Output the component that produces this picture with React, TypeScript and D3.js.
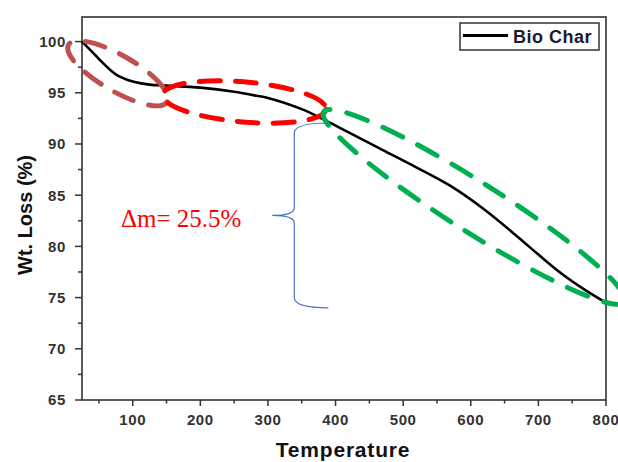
import React from "react";
import * as d3 from "d3";

const temps = [25, 40, 50, 75, 100, 125, 150, 200, 250, 275, 300, 350, 385, 420, 470, 520, 570, 620, 670, 700, 735, 770, 800];
const wtLoss = [100, 99.0, 98.3, 96.8, 96.1, 95.8, 95.7, 95.5, 95.1, 94.8, 94.5, 93.4, 92.3, 91.1, 89.4, 87.7, 85.9, 83.6, 80.9, 79.2, 77.3, 75.7, 74.5];
const xTicks = [100, 200, 300, 400, 500, 600, 700, 800];
const xMinor = [50, 150, 250, 350, 450, 550, 650, 750];
const yTicks = [65, 70, 75, 80, 85, 90, 95, 100];
const yMinor = [67.5, 72.5, 77.5, 82.5, 87.5, 92.5, 97.5];
const seriesName = "Bio Char";
const annotationText = "Δm= 25.5%";
// highlighted regions: centre in data units
const regionCentersT = [78, 265, 605];
const regionCentersW = [96.9, 94.1, 83.85];
// brace: data extents
const braceTopW = 92.05;
const braceBottomW = 74.0;
const braceT = 339;

const W = 618, H = 462;
const L = 82, R = 606, T = 17, B = 400;

export default function App() {
  const x = d3.scaleLinear().domain([25, 800]).range([L, R]);
  const y = d3.scaleLinear().domain([65, 102.4]).range([B, T]);
  const line = d3.line<number>().x((_, i) => x(temps[i])).y((d) => y(d)).curve(d3.curveCatmullRom.alpha(0.5));

  const regionStyles = [
    { rx: 57, ry: 18, angle: 30, color: "#C0504D", dash: "20 16" },
    { rx: 82, ry: 20, angle: 5, color: "#FF0000", dash: "21 15" },
    { rx: 178, ry: 25, angle: 32.3, color: "#00B050", dash: "22 17" },
  ];

  const bx = x(braceT);
  const by0 = y(braceTopW);
  const by1 = y(braceBottomW);
  const bm = (by0 + by1) / 2;
  const bEnd = bx + 34;
  const bTip = bx - 22;
  const bracePath = `M${bEnd},${by0} Q${bx},${by0} ${bx},${by0 + 10} L${bx},${bm - 8} Q${bx},${bm} ${bTip},${bm} Q${bx},${bm} ${bx},${bm + 8} L${bx},${by1 - 10} Q${bx},${by1} ${bEnd},${by1}`;

  const tickFont = { fontFamily: "'Liberation Sans', Arial, sans-serif", fontWeight: 700, fontSize: 15, fill: "#333", letterSpacing: 0.6 } as const;

  return (
    <svg width={W} height={H} style={{ position: "absolute", left: 0, top: 0, background: "#fff" }}>
      <rect x={0} y={0} width={W} height={H} fill="#fff" />
      {/* frame */}
      <rect x={L} y={T} width={R - L} height={B - T} fill="none" stroke="#333" strokeWidth={1.6} />
      {/* y ticks */}
      {yTicks.map((v) => (
        <g key={"y" + v}>
          <line x1={L - 7} x2={L} y1={y(v)} y2={y(v)} stroke="#333" strokeWidth={1.5} />
          <text x={L - 16} y={y(v)} dy="0.36em" textAnchor="end" {...tickFont}>{v}</text>
        </g>
      ))}
      {yMinor.map((v) => (
        <line key={"ym" + v} x1={L - 4} x2={L} y1={y(v)} y2={y(v)} stroke="#333" strokeWidth={1.5} />
      ))}
      {/* x ticks */}
      {xTicks.map((v) => (
        <g key={"x" + v}>
          <line x1={x(v)} x2={x(v)} y1={B} y2={B + 6} stroke="#333" strokeWidth={1.5} />
          <text x={x(v)} y={B + 25} textAnchor="middle" {...tickFont}>{v}</text>
        </g>
      ))}
      {xMinor.map((v) => (
        <line key={"xm" + v} x1={x(v)} x2={x(v)} y1={B} y2={B + 3.5} stroke="#333" strokeWidth={1.5} />
      ))}
      {/* axis titles */}
      <text x={32} y={215} transform="rotate(-90 32 215)" textAnchor="middle"
        style={{ fontFamily: "'Liberation Sans', Arial, sans-serif", fontWeight: 700, fontSize: 20, fill: "#111" }}>Wt. Loss (%)</text>
      <text x={343} y={457} textAnchor="middle"
        style={{ fontFamily: "'Liberation Sans', Arial, sans-serif", fontWeight: 700, fontSize: 21, fill: "#111", letterSpacing: 0.8 }}>Temperature</text>
      {/* data line */}
      <path d={line(wtLoss) || ""} fill="none" stroke="#000" strokeWidth={2.6} />
      {/* highlighted regions */}
      {regionStyles.map((s, i) => (
        <ellipse key={"e" + i} cx={x(regionCentersT[i])} cy={y(regionCentersW[i])} rx={s.rx} ry={s.ry}
          transform={`rotate(${s.angle} ${x(regionCentersT[i])} ${y(regionCentersW[i])})`}
          fill="none" stroke={s.color} strokeWidth={5} strokeDasharray={s.dash} strokeLinecap="round" />
      ))}
      {/* brace */}
      <path d={bracePath} fill="none" stroke="#4472C4" strokeWidth={1.2} />
      <text x={121} y={227} style={{ fontFamily: "'Liberation Serif', 'Times New Roman', serif", fontSize: 25, fill: "#FF0000" }}>{annotationText}</text>
      {/* legend */}
      <rect x={460} y={23} width={139} height={27} fill="#fff" stroke="#333" strokeWidth={1.5} />
      <line x1={463} x2={508} y1={35.5} y2={35.5} stroke="#000" strokeWidth={3} />
      <text x={513} y={43} style={{ fontFamily: "'Liberation Sans', Arial, sans-serif", fontWeight: 700, fontSize: 18, fill: "#1a1a30", letterSpacing: 0.5 }}>{seriesName}</text>
    </svg>
  );
}
